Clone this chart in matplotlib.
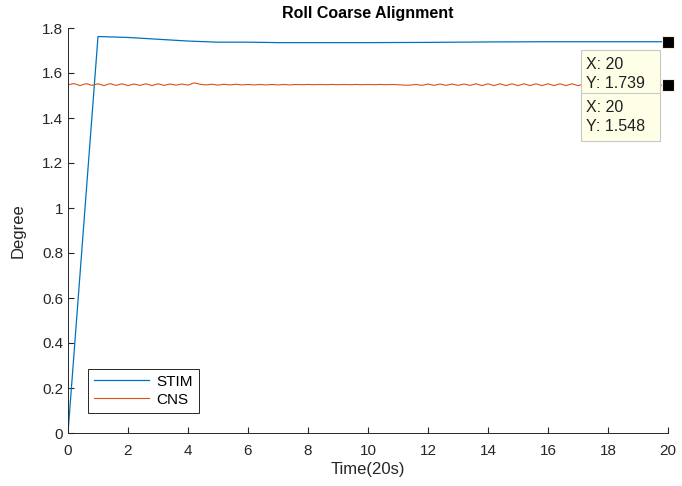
import numpy as np
import matplotlib.pyplot as plt
from matplotlib.patches import Rectangle

plt.rcParams['font.family'] = ['Liberation Sans', 'DejaVu Sans']

stim_t = [0, 1, 2, 3, 4, 5, 6, 7, 8, 10, 12, 14, 16, 18, 20]
stim_v = [0, 1.762, 1.758, 1.750, 1.742, 1.737, 1.737, 1.735, 1.735, 1.735, 1.736, 1.738, 1.739, 1.739, 1.739]

cns_t = list(np.arange(0, 20.01, 0.2))
cns_v = [1.548, 1.553, 1.544, 1.553, 1.545, 1.552, 1.544, 1.553, 1.545, 1.552,
         1.544, 1.551, 1.545, 1.552, 1.544, 1.552, 1.545, 1.551, 1.546, 1.551,
         1.546, 1.556, 1.550, 1.547, 1.550, 1.546, 1.550, 1.547, 1.550, 1.547,
         1.549, 1.547, 1.549, 1.547, 1.549, 1.547, 1.549, 1.547, 1.549, 1.548,
         1.549, 1.548, 1.549, 1.548, 1.549, 1.548, 1.549, 1.548, 1.549, 1.548,
         1.549, 1.548, 1.549, 1.548, 1.549, 1.548, 1.546, 1.546, 1.549, 1.545,
         1.551, 1.545, 1.551, 1.545, 1.551, 1.545, 1.551, 1.545, 1.552, 1.544,
         1.552, 1.544, 1.552, 1.544, 1.552, 1.544, 1.552, 1.544, 1.552, 1.544,
         1.552, 1.544, 1.552, 1.544, 1.552, 1.544, 1.551, 1.545, 1.551, 1.545,
         1.551, 1.545, 1.551, 1.545, 1.551, 1.545, 1.551, 1.545, 1.551, 1.545,
         1.548]

tips = [(20, 1.739), (20, 1.548)]

fig = plt.figure(figsize=(6.82, 4.86), dpi=100)
ax = fig.add_axes([68 / 682, 1 - 433 / 486, 600 / 682, 405 / 486])

ax.plot(stim_t, stim_v, color='#0072BD', lw=0.9, label='STIM')
ax.plot(cns_t, cns_v, color='#D95319', lw=0.8, label='CNS')

for tx, ty in tips:
    ax.plot(tx, ty, 's', color='black', ms=9, mec='#F0F0E0', mew=0.8, clip_on=False, zorder=5)

ax.set_xlim(0, 20)
ax.set_ylim(0, 1.8)
ax.set_xticks(range(0, 21, 2))
ax.set_yticks(np.arange(0, 1.81, 0.2))
ax.set_yticklabels(['0', '0.2', '0.4', '0.6', '0.8', '1', '1.2', '1.4', '1.6', '1.8'])
ax.tick_params(direction='in', length=4, colors='#262626', labelsize=11, top=False, right=False)
ax.tick_params(axis='x', pad=8)
for s in ['top', 'right']:
    ax.spines[s].set_visible(False)
for s in ['left', 'bottom']:
    ax.spines[s].set_color('#262626')
    ax.spines[s].set_linewidth(0.7)

ax.set_title('Roll Coarse Alignment', fontsize=11.5, fontweight='bold', pad=7)
ax.set_xlabel('Time(20s)', fontsize=12, color='#262626', labelpad=3)
ax.set_ylabel('Degree', fontsize=12, color='#262626', labelpad=12)

leg = ax.legend(loc='lower left', bbox_to_anchor=(0.033, 0.05), borderaxespad=0, fontsize=11,
                fancybox=False, edgecolor='#262626', framealpha=1,
                handlelength=3.6, handletextpad=0.5, borderpad=0.4, labelspacing=0.25)
leg.get_frame().set_linewidth(0.7)

# data tip boxes (figure pixels, y from top)
boxes = [(581, 50, 'X: 20\nY: 1.739'), (581, 93, 'X: 20\nY: 1.548')]
for bx, by, txt in boxes:
    fig.add_artist(Rectangle((bx / 682, 1 - (by + 48) / 486), 79 / 682, 48 / 486,
                             transform=fig.transFigure, facecolor='#FFFFE8',
                             edgecolor='#C8C8C8', lw=0.8, zorder=6))
    fig.text((bx + 5) / 682, 1 - (by + 24) / 486, txt, fontsize=11.5, va='center',
             ha='left', color='#202020', linespacing=1.3, zorder=7)

fig.savefig('out.png', dpi=100)
